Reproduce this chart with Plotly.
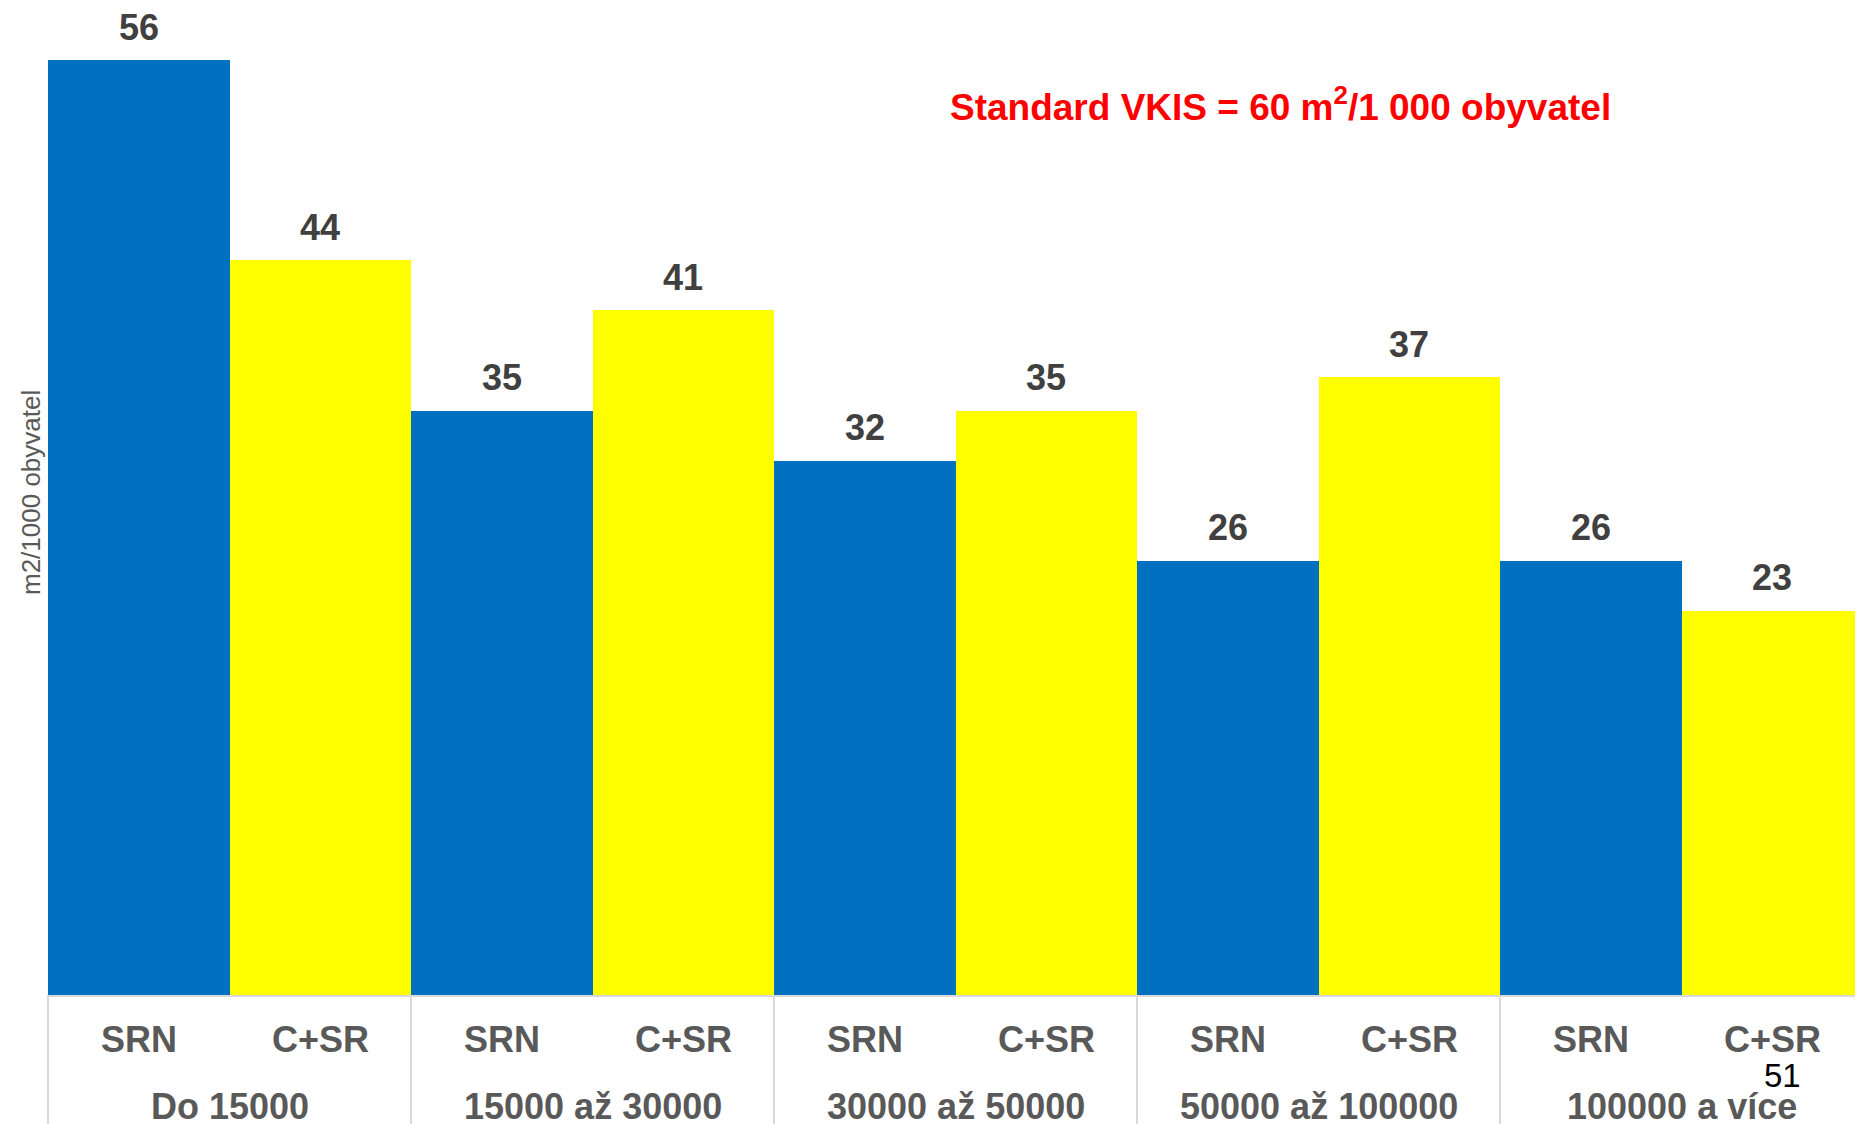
import plotly.graph_objects as go

groups = ["Do 15000", "15000 až 30000", "30000 až 50000", "50000 až 100000", "100000 a více"]
series_names = ["SRN", "C+SR"]
srn_values = [56, 35, 32, 26, 26]
csr_values = [44, 41, 35, 37, 23]
y_title = "m2/1000 obyvatel"
note_text = "Standard VKIS = 60 m<sup>2</sup>/1 000 obyvatel"
page_number = "51"

FONT = "Liberation Sans, Arial, sans-serif"
BLUE = "#0070C0"
YELLOW = "#FFFF00"
GREY = "#595959"
LINE = "#D9D9D9"

# page offset (default body margin of the html page)
OFF = 8
W, H = 1863 - OFF, 1124
L, R, T = 47 - OFF, 0, 0
BASE = 995 - OFF            # baseline in figure pixels
B = H - BASE
PW = W - L - R
PH = BASE - T


def px(page_x):
    return (page_x - OFF - L) / PW


def py(page_y):
    return (BASE - (page_y - OFF)) / PH


x_groups, x_series, y_vals, colors = [], [], [], []
for i, g in enumerate(groups):
    x_groups += [g, g]
    x_series += series_names
    y_vals += [srn_values[i], csr_values[i]]
    colors += [BLUE, YELLOW]

fig = go.Figure()
fig.add_trace(go.Bar(
    x=[x_groups, x_series],
    y=y_vals,
    marker=dict(color=colors, line=dict(width=0)),
    showlegend=False,
))

# value labels
for xg, xs, v in zip(x_groups, x_series, y_vals):
    fig.add_annotation(
        x=[xg, xs], y=v, xref="x", yref="y",
        text=str(v), showarrow=False,
        yanchor="middle", yshift=33,
        font=dict(family=FONT, size=36, color="#404040", weight="bold"),
    )

# category labels (inner level)
for xg, xs in zip(x_groups, x_series):
    fig.add_annotation(
        x=[xg, xs], y=py(1039), xref="x", yref="paper",
        text=xs, showarrow=False, yanchor="middle",
        font=dict(family=FONT, size=36, color=GREY, weight="bold"),
    )

# group labels and dividers
for i, g in enumerate(groups):
    fig.add_annotation(
        x=2 * i + 0.5, y=py(1106), xref="x", yref="paper",
        text=g, showarrow=False, yanchor="middle",
        font=dict(family=FONT, size=36, color=GREY, weight="bold"),
    )
    fig.add_shape(
        type="line", xref="x", yref="paper",
        x0=2 * i - 0.5, x1=2 * i - 0.5, y0=0, y1=-B / PH,
        line=dict(color=LINE, width=2),
    )

# standard note
fig.add_annotation(
    xref="paper", yref="paper", x=px(1280), y=py(105),
    text=note_text, showarrow=False, xanchor="center", yanchor="middle",
    font=dict(family=FONT, size=37, color="#FF0000", weight="bold"),
)

# y-axis title
fig.add_annotation(
    xref="paper", yref="paper", x=px(31), y=py(493),
    text=y_title, showarrow=False, xanchor="center", yanchor="middle",
    textangle=-90,
    font=dict(family=FONT, size=26, color=GREY),
)

# page number
fig.add_annotation(
    xref="paper", yref="paper", x=px(1782), y=py(1075),
    text=page_number, showarrow=False, xanchor="center", yanchor="middle",
    font=dict(family=FONT, size=33, color="#000000"),
)

fig.update_layout(
    width=W, height=H,
    margin=dict(l=L, r=R, t=T, b=B),
    paper_bgcolor="white", plot_bgcolor="white",
    bargap=0,
    xaxis=dict(
        showline=True, linecolor=LINE, linewidth=2,
        showgrid=False, zeroline=False,
        showticklabels=False, ticks="", showdividers=False,
    ),
    yaxis=dict(
        range=[0, PH / (935 / 56)], showgrid=False, zeroline=False, showline=False,
        showticklabels=False, ticks="",
    ),
)

fig.write_html("out.html")
